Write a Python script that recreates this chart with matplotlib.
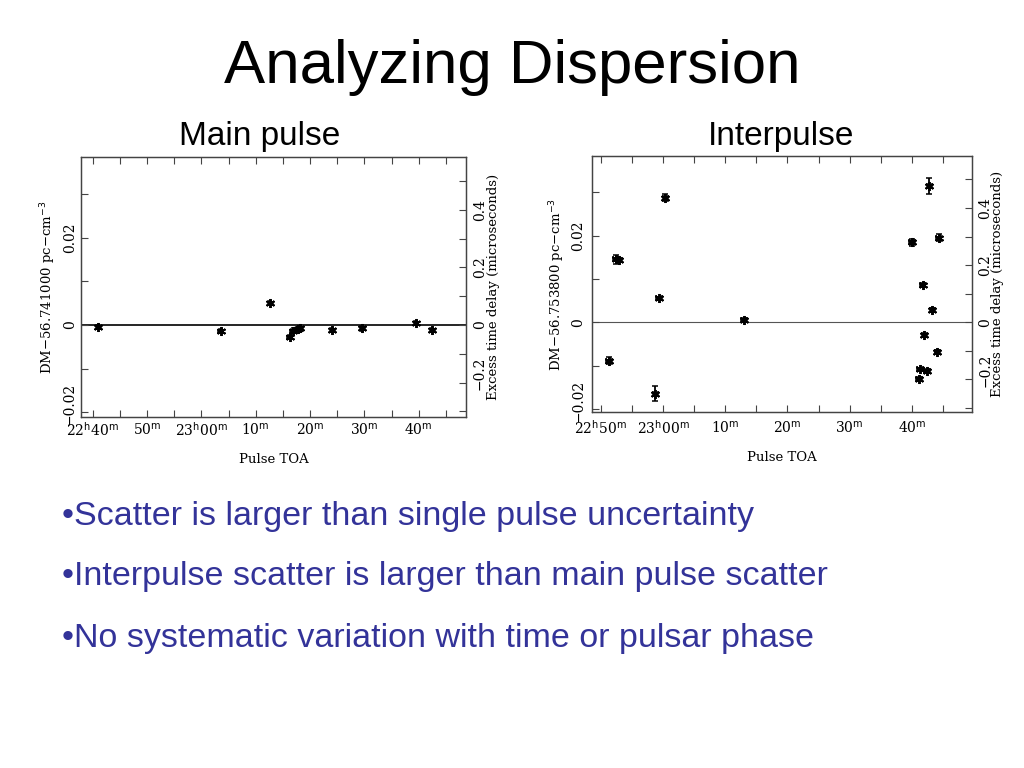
import matplotlib
matplotlib.use("Agg")
import matplotlib.pyplot as plt
import matplotlib.transforms as mtrans
from matplotlib.ticker import MultipleLocator, FixedLocator, NullFormatter

# ---------------- data (x: minutes after 22h00m, y: DM offset) ----------------
main_t = [41.0, 63.6, 72.7, 76.3, 76.8, 77.7, 78.2, 84.1, 89.6, 99.5, 102.5]
main_dm = [-0.0005, -0.0014, 0.0050, -0.0028, -0.0013, -0.0009, -0.0008,
           -0.0012, -0.0008, 0.0004, -0.0011]
main_err = [0.0005] * 11

inter_t = [51.3, 52.4, 52.9, 58.8, 59.4, 60.4, 73.0, 100.05, 101.1, 101.3,
           101.7, 102.0, 102.4, 102.8, 103.3, 104.1, 104.3]
inter_dm = [-0.0089, 0.0145, 0.0144, -0.0165, 0.0055, 0.0288, 0.0005, 0.0185,
            -0.0131, -0.0109, 0.0087, -0.0030, -0.0112, 0.0315, 0.0028,
            -0.0068, 0.0195]
inter_err = [0.0008, 0.0011, 0.0005, 0.0017, 0.0004, 0.0009, 0.0004, 0.0008,
             0.0004, 0.0004, 0.0004, 0.0004, 0.0004, 0.0018, 0.0004, 0.0004,
             0.0008]

x_ticks_main = [40, 50, 60, 70, 80, 90, 100]
x_labels_main = [r"22$^{\rm h}$40$^{\rm m}$", r"50$^{\rm m}$", r"23$^{\rm h}$00$^{\rm m}$",
                 r"10$^{\rm m}$", r"20$^{\rm m}$", r"30$^{\rm m}$", r"40$^{\rm m}$"]
x_ticks_inter = [50, 60, 70, 80, 90, 100]
x_labels_inter = [r"22$^{\rm h}$50$^{\rm m}$", r"23$^{\rm h}$00$^{\rm m}$", r"10$^{\rm m}$",
                  r"20$^{\rm m}$", r"30$^{\rm m}$", r"40$^{\rm m}$"]
dm_ticks = [-0.02, 0, 0.02]
dm_labels = ["\u22120.02", "0", "0.02"]
us_ticks = [-0.2, 0, 0.2, 0.4]
us_labels = ["\u22120.2", "0", "0.2", "0.4"]
US_PER_DM = 15.15

title = "Analyzing Dispersion"
bullets = ["\u2022Scatter is larger than single pulse uncertainty",
           "\u2022Interpulse scatter is larger than main pulse scatter",
           "\u2022No systematic variation with time or pulsar phase"]

SERIF = "DejaVu Serif"
FS = 9.5
TFS = 10

fig = plt.figure(figsize=(10.24, 7.68), dpi=100)
fig.patch.set_facecolor("white")

fig.text(0.5, 1 - 68 / 768, title, ha="center", va="center",
         fontsize=44.5, family="Liberation Sans")
fig.text(260 / 1024, 1 - 137 / 768, "Main pulse", ha="center", va="center",
         fontsize=24, family="Liberation Sans")
fig.text(781 / 1024, 1 - 137 / 768, "Interpulse", ha="center", va="center",
         fontsize=24, family="Liberation Sans")
for i, b in enumerate(bullets):
    fig.text(62 / 1024, 1 - (516 + 61 * i) / 768, b, ha="left", va="center",
             fontsize=24.5, family="Liberation Sans", color="#333399")


def ptrans(ax, base, dx, dy):
    return base + mtrans.ScaledTranslation(dx / 100, dy / 100,
                                           fig.dpi_scale_trans)


def panel(rect, t, dm, err, xlim, ylim, xt, xl, ylab, zlw, zcol, capsize,
          off_l, off_r, off_lab_l, off_lab_r, xpad):
    ax = fig.add_axes(rect)
    ax.set_xlim(*xlim)
    ax.set_ylim(*ylim)
    ax.axhline(0, color=zcol, lw=zlw, zorder=1)
    ax.errorbar(t, dm, yerr=err, xerr=0.45, fmt="none", ecolor="black",
                elinewidth=1.3, capsize=capsize, capthick=1.1, zorder=3)
    ax.plot(t, dm, ls="none", marker=(6, 2, 0), ms=6.5, mec="black", mew=1.4,
            zorder=4)
    for s in ax.spines.values():
        s.set_linewidth(0.9)
        s.set_color("#444444")
    ax.xaxis.set_major_locator(FixedLocator(xt))
    ax.set_xticklabels(xl, family=SERIF, fontsize=TFS)
    ax.xaxis.set_minor_locator(MultipleLocator(5))
    ax.yaxis.set_major_locator(FixedLocator(dm_ticks))
    ax.yaxis.set_major_formatter(NullFormatter())
    ax.yaxis.set_minor_locator(MultipleLocator(0.01))
    ax.tick_params(which="both", direction="in", top=True, right=False,
                   color="#444444")
    ax.tick_params(which="major", length=5, width=0.8)
    ax.tick_params(axis="x", which="major", pad=xpad)
    ax.tick_params(which="minor", length=5, width=0.8)
    ax.set_xlabel("Pulse TOA", family=SERIF, fontsize=FS, labelpad=10)

    bl = mtrans.blended_transform_factory(ax.transAxes, ax.transData)
    for v, s in zip(dm_ticks, dm_labels):
        dy = 8 if v < 0 else 0
        ax.text(0, v, s, rotation=90, ha="center", va="center",
                family=SERIF, fontsize=TFS,
                transform=ptrans(ax, bl, -off_l, dy))
    ax.text(0, 0.5, ylab, rotation=90, ha="center", va="center",
            family=SERIF, fontsize=FS,
            transform=ptrans(ax, ax.transAxes, -off_lab_l, 0))

    ax2 = ax.twinx()
    ax2.set_ylim(ylim[0] * US_PER_DM, ylim[1] * US_PER_DM)
    ax2.yaxis.set_major_locator(FixedLocator(us_ticks))
    ax2.yaxis.set_major_formatter(NullFormatter())
    ax2.yaxis.set_minor_locator(MultipleLocator(0.1))
    ax2.tick_params(which="both", direction="in", color="#444444")
    ax2.tick_params(which="major", length=5, width=0.8)
    ax2.tick_params(which="minor", length=5, width=0.8)
    for s in ax2.spines.values():
        s.set_linewidth(0.9)
        s.set_color("#444444")
    bl2 = mtrans.blended_transform_factory(ax2.transAxes, ax2.transData)
    for v, s in zip(us_ticks, us_labels):
        dy = 9 if v < 0 else 0
        ax2.text(1, v, s, rotation=90, ha="center", va="center",
                 family=SERIF, fontsize=TFS,
                 transform=ptrans(ax2, bl2, off_r, dy))
    ax2.text(1, 0.5, "Excess time delay (microseconds)", rotation=90,
             ha="center", va="center", family=SERIF, fontsize=FS,
             transform=ptrans(ax2, ax2.transAxes, off_lab_r, 0))
    return ax


panel([81 / 1024, 1 - 417 / 768, 385 / 1024, 260 / 768],
      main_t, main_dm, main_err, (37.85, 108.7), (-0.0211, 0.0385),
      x_ticks_main, x_labels_main, "DM\u221256.741000 pc\u2212cm$^{-3}$",
      1.2, "black", 1.5, 11, 14, 33, 27, 3)
panel([591.7 / 1024, 1 - 412.3 / 768, 380.6 / 1024, 256.3 / 768],
      inter_t, inter_dm, inter_err, (48.55, 109.7), (-0.0208, 0.0384),
      x_ticks_inter, x_labels_inter, "DM\u221256.753800 pc\u2212cm$^{-3}$",
      0.8, "#555555", 2.5, 13.5, 13, 35, 25, 5)

fig.savefig("out.png", dpi=100, facecolor="white")
